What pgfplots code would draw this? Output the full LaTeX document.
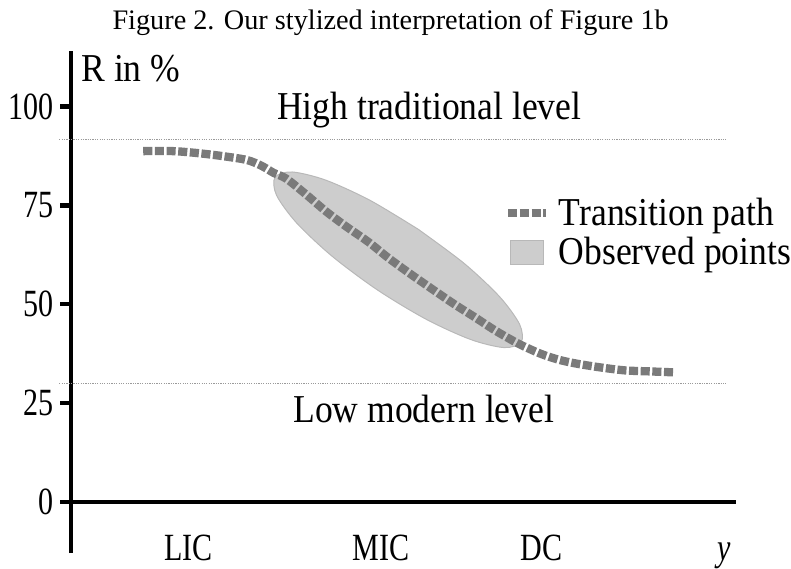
\documentclass[border=0pt]{standalone}
\usepackage{fontspec}
\setmainfont{Liberation Serif}
\newfontfamily\labfam[FakeStretch=0.9]{Liberation Serif}
\newfontfamily\condfam[FakeStretch=0.78]{Liberation Serif}
\usepackage{pgfplots}
\pgfplotsset{compat=1.18}
\definecolor{pathgray}{HTML}{7A7A7A}
\definecolor{ellfill}{HTML}{CDCDCD}
\definecolor{elldraw}{HTML}{B8B8B8}
\definecolor{dotgray}{HTML}{9A9A9A}
\newcommand{\labfont}{\labfam\fontsize{20}{24}\selectfont}
\newcommand{\tickfont}{\condfam\fontsize{19.5}{23}\selectfont}
\pgfplotsset{
  pathleg/.style={legend image code/.code={\draw[##1] (0pt,0pt) -- (19pt,0pt);}},
  rectleg/.style={legend image code/.code={\draw[##1] (1pt,-6pt) rectangle (18pt,6pt);}},
}
\begin{document}
\begin{tikzpicture}
\begin{axis}[
  scale only axis, width=340.5pt, height=254pt,
  xmin=-8, xmax=673, ymin=-13, ymax=114,
  axis lines=middle,
  axis line style={-, line width=2pt, black},
  clip=false,
  hide obscured x ticks=false, hide obscured y ticks=false,
  ytick={0,25,50,75,100},
  tick align=outside,
  major tick length=5.5pt,
  ytick style={line width=2.2pt, black},
  xtick={119,314,476,661},
  xticklabels={LIC,MIC,DC,\textit{y}},
  xtick style={draw=none},
  /pgf/number format/assume math mode=true,
  yticklabel style={font=\tickfont, anchor=east, inner sep=0pt, xshift=-3pt},
  xticklabel style={font=\tickfont, anchor=base, inner sep=0pt, yshift=-24pt},
  legend style={at={(axis cs:438,77)}, anchor=north west, draw=none, fill=none,
    font=\labfont, row sep=4.5pt, column sep=4.5pt, inner sep=0pt,
    nodes={inner sep=0pt}},
  legend cell align=left,
]
\addplot[dotgray, line width=0.6pt, dash pattern=on 0.6pt off 0.6pt, forget plot]
  coordinates {(-12,91.75) (663,91.75)};
\addplot[dotgray, line width=0.6pt, dash pattern=on 0.6pt off 0.6pt, forget plot]
  coordinates {(-12,30) (663,30)};
\addplot[fill=ellfill, draw=elldraw, line width=0.5pt, smooth, forget plot]
  coordinates {
  (351.58,68.94) (397.71,60.37) (433.69,51.93) (454.04,44.92)
  (455.65,40.39) (438.28,39.03) (404.59,41.06) (359.69,46.16)
  (310.42,53.56) (264.29,62.13) (228.31,70.57) (207.96,77.58)
  (206.35,82.11) (223.72,83.47) (257.41,81.44) (302.31,76.34)
  (351.58,68.94)};
\addplot[pathgray, line width=4.2pt, dash pattern=on 4.6pt off 1.3pt, smooth, tension=0.5, forget plot]
  coordinates {
  (73,88.75) (103,88.75) (128,88.25) (153,87.5) (178,86.5) (193,85)
  (205,83.25) (218,81.75) (238,77.75) (258,73.5) (278,69.75) (301,65.75)
  (321,61.75) (343,57.75) (366,53.75) (388,50) (410,46.5) (430,43.25)
  (453,40) (475,37.5) (493,36) (511,35) (536,34) (561,33.25) (586,33) (611,32.75)};
\addlegendimage{pathgray, line width=4.2pt, dash pattern=on 4.6pt off 1.3pt, pathleg}
\addlegendentry{Transition path}
\addlegendimage{fill=ellfill, draw=elldraw, line width=0.5pt, rectleg}
\addlegendentry{Observed points}
\node[font=\labfont, anchor=base] at (axis cs:362.5,96.75) {High traditional level};
\node[font=\labfont, anchor=base] at (axis cs:357,20) {Low modern level};
\node[font=\labfont, anchor=base west, inner sep=0pt] at (axis cs:10,106.25) {R in \%};
\node[font=\fontsize{14.3}{17}\selectfont, anchor=base] at (axis cs:323.5,119.5)
  {Figure 2. Our stylized interpretation of Figure 1b};
\path (axis cs:-72,127) rectangle (axis cs:719,-14.75);
\end{axis}
\end{tikzpicture}
\end{document}
